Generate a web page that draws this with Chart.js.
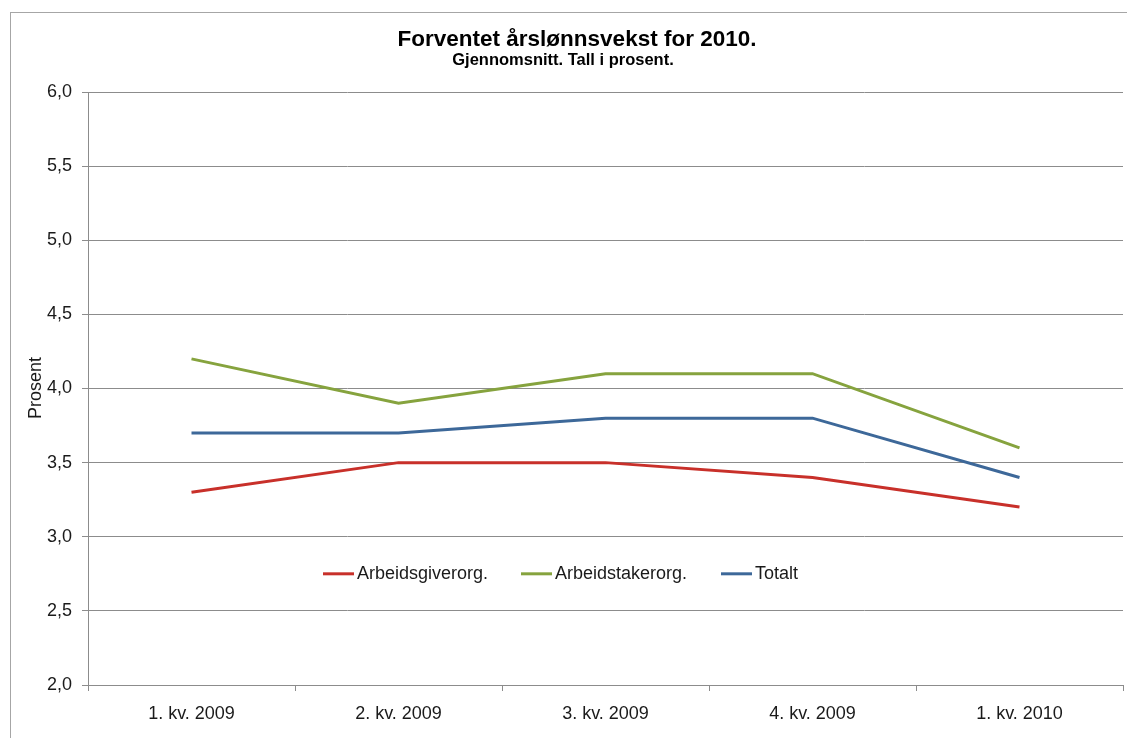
<!DOCTYPE html>
<html>
<head>
<meta charset="utf-8">
<script src="https://cdn.jsdelivr.net/npm/chart.js@4"></script>
<style>
html,body{margin:0;padding:0;background:#fff;}
#wrap{width:1127px;height:738px;position:relative;}
</style>
</head>
<body>
<div id="wrap"><canvas id="c" width="1127" height="738"></canvas></div>
<script>
const categories = ["1. kv. 2009", "2. kv. 2009", "3. kv. 2009", "4. kv. 2009", "1. kv. 2010"];
const seriesNames = ["Arbeidsgiverorg.", "Arbeidstakerorg.", "Totalt"];
const arbeidsgiver = [3.3, 3.5, 3.5, 3.4, 3.2];
const arbeidstaker = [4.2, 3.9, 4.1, 4.1, 3.6];
const totalt = [3.7, 3.7, 3.8, 3.8, 3.4];
const titleText = "Forventet årslønnsvekst for 2010.";
const subtitleText = "Gjennomsnitt. Tall i prosent.";
const yAxisTitle = "Prosent";

const colors = ["#C8302A", "#86A33E", "#3D6899"];
const FONT = "'Liberation Sans', Arial, sans-serif";

const decor = {
  id: 'decor',
  beforeDraw(chart) {
    const ctx = chart.ctx;
    ctx.save();
    ctx.fillStyle = '#fff';
    ctx.fillRect(0, 0, chart.width, chart.height);
    ctx.strokeStyle = '#a6a6a6';
    ctx.lineWidth = 1;
    ctx.strokeRect(10.5, 12.5, 1200, 800);
    ctx.restore();
  },
  afterDraw(chart) {
    const ctx = chart.ctx;
    ctx.save();
    ctx.fillStyle = '#000';
    ctx.textAlign = 'center';
    ctx.textBaseline = 'alphabetic';
    ctx.font = "bold 22.5px " + FONT;
    ctx.fillText(titleText, 577, 46);
    ctx.font = "bold 16.5px " + FONT;
    ctx.fillText(subtitleText, 563, 65);
    // y axis title
    ctx.font = "18px " + FONT;
    ctx.fillStyle = '#1a1a1a';
    ctx.translate(41, 388);
    ctx.rotate(-Math.PI / 2);
    ctx.fillText(yAxisTitle, 0, 0);
    ctx.restore();
    // legend inside plot
    ctx.save();
    ctx.font = "18px " + FONT;
    ctx.textBaseline = 'middle';
    ctx.textAlign = 'left';
    const ly = chart.scales.y.getPixelForValue(2.75);
    const starts = [323, 521, 721];
    chart.data.datasets.forEach((ds, i) => {
      const x = starts[i];
      ctx.strokeStyle = ds.borderColor;
      ctx.lineWidth = 3;
      ctx.beginPath();
      ctx.moveTo(x, ly);
      ctx.lineTo(x + 31, ly);
      ctx.stroke();
      ctx.fillStyle = '#1a1a1a';
      ctx.fillText(ds.label, x + 34, ly);
    });
    ctx.restore();
  }
};

new Chart(document.getElementById('c'), {
  type: 'line',
  data: {
    labels: categories,
    datasets: [
      { label: seriesNames[0], data: arbeidsgiver, borderColor: colors[0], backgroundColor: colors[0] },
      { label: seriesNames[1], data: arbeidstaker, borderColor: colors[1], backgroundColor: colors[1] },
      { label: seriesNames[2], data: totalt, borderColor: colors[2], backgroundColor: colors[2] }
    ]
  },
  options: {
    responsive: false,
    animation: false,
    devicePixelRatio: 1,
    layout: { padding: { top: 92, right: 4, left: 0, bottom: 0 } },
    elements: {
      line: { borderWidth: 3, tension: 0 },
      point: { radius: 0, hoverRadius: 0 }
    },
    plugins: {
      legend: { display: false },
      title: { display: false },
      tooltip: { enabled: false }
    },
    scales: {
      x: {
        type: 'category',
        offset: true,
        grid: { display: true, drawOnChartArea: false, offset: true, color: '#8c8c8c', tickLength: 6 },
        border: { color: '#8c8c8c' },
        ticks: { color: '#1a1a1a', font: { size: 18, family: FONT }, padding: 12, maxRotation: 0 },
        afterFit(s) { s.height = 53; }
      },
      y: {
        min: 2, max: 6,
        grid: { color: '#8c8c8c', tickLength: 6 },
        border: { color: '#8c8c8c' },
        ticks: {
          stepSize: 0.5,
          color: '#1a1a1a',
          font: { size: 18, family: FONT },
          padding: 10,
          callback: v => v.toFixed(1).replace('.', ',')
        },
        afterFit(s) { s.width = 88; }
      }
    }
  },
  plugins: [decor]
});
</script>
</body>
</html>
